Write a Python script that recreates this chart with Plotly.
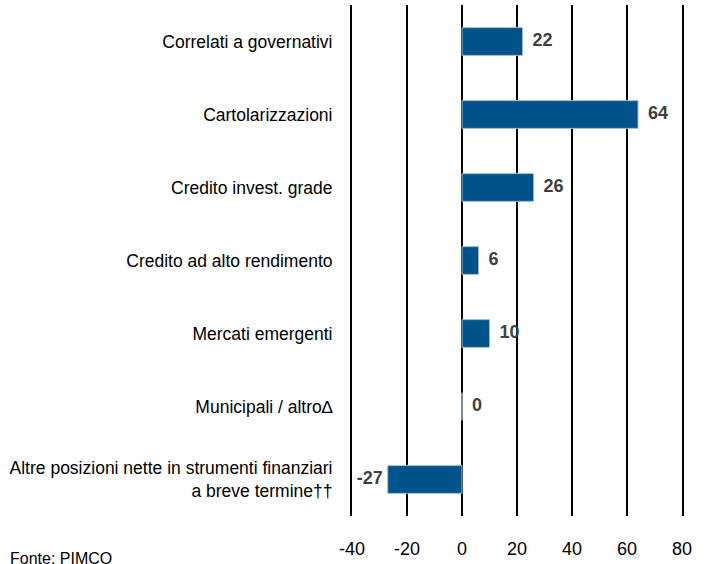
import plotly.graph_objects as go

categories = [
    "Correlati a governativi",
    "Cartolarizzazioni",
    "Credito invest. grade",
    "Credito ad alto rendimento",
    "Mercati emergenti",
    "Municipali / altro∆",
    "Altre posizioni nette in strumenti finanziari<br>a breve termine††",
]
values = [22, 64, 26, 6, 10, 0, -27]
x_ticks = [-40, -20, 0, 20, 40, 60, 80]

label_font = "Liberation Sans Narrow, Arial Narrow, Liberation Sans, Arial, sans-serif"

fig = go.Figure()
fig.add_trace(go.Bar(
    y=categories, x=values, orientation="h",
    marker=dict(color="#00538A", line=dict(color="#9fb9cf", width=1)),
    width=0.38, hoverinfo="skip",
))
fig.add_trace(go.Scatter(
    y=categories, x=values, mode="text",
    text=[("  " + str(v)) if v >= 0 else (str(v) + " ") for v in values],
    textposition=["middle right" if v >= 0 else "middle left" for v in values],
    textfont=dict(family=label_font, size=18, color="#404040", weight="bold"),
    cliponaxis=False, hoverinfo="skip",
))

fig.update_layout(
    width=710, height=564,
    margin=dict(l=352, r=28, t=5, b=39),
    plot_bgcolor="white", paper_bgcolor="white",
    showlegend=False,
    font=dict(family=label_font, size=17, color="black"),
    xaxis=dict(
        range=[-40, 80], tickvals=x_ticks, ticktext=[str(t) for t in x_ticks],
        showgrid=True, gridcolor="black", gridwidth=2,
        zeroline=True, zerolinecolor="black", zerolinewidth=2,
        ticks="", ticklabelstandoff=20,
        showline=False, tickfont=dict(size=18), fixedrange=True,
    ),
    yaxis=dict(
        autorange=False, range=[6.5, -0.5],
        showgrid=False, zeroline=False, ticks="",
        ticklabelstandoff=14,
        showline=True, mirror=True, linecolor="black", linewidth=2,
        tickfont=dict(size=17.5), fixedrange=True,
    ),
    annotations=[dict(
        text="Fonte: PIMCO", xref="paper", yref="paper",
        x=-344/330, y=-(558-525)/520, xanchor="left", yanchor="top",
        showarrow=False, font=dict(size=16, color="black"),
    )],
)

fig.write_html("out.html", config={"displayModeBar": False},
               post_script="document.body.style.margin='0';")
